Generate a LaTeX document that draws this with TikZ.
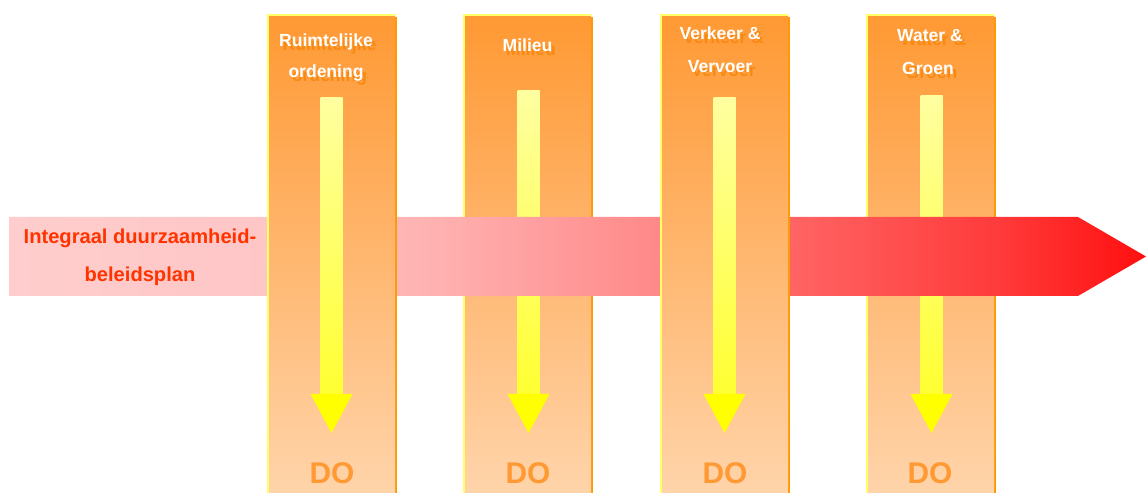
\documentclass[tikz,border=0pt]{standalone}
\usepackage{fontspec}
\setmainfont{Liberation Sans}
\usetikzlibrary{shadows}

\definecolor{colTop}{RGB}{255,153,51}
\definecolor{colBot}{RGB}{255,212,170}
\definecolor{colEdge}{RGB}{255,153,0}
\definecolor{colLight}{RGB}{255,255,102}
\definecolor{shaftTop}{RGB}{255,255,160}
\definecolor{shaftBot}{RGB}{255,255,50}
\definecolor{headYel}{RGB}{255,255,0}
\definecolor{titleShade}{RGB}{248,138,20}
\definecolor{doOrange}{RGB}{255,153,51}
\definecolor{barText}{RGB}{255,51,0}
\definecolor{barA}{RGB}{255,205,205}
\definecolor{barB}{RGB}{255,198,198}
\definecolor{barC}{RGB}{255,176,176}
\definecolor{barD}{RGB}{255,136,136}
\definecolor{barE}{RGB}{255,100,100}
\definecolor{barF}{RGB}{255,58,58}
\definecolor{barG}{RGB}{255,15,15}

\pgfdeclarehorizontalshading{barshade}{100bp}{color(0bp)=(barA); color(25bp)=(barA);
  color(36.4bp)=(barB); color(44bp)=(barC); color(53.7bp)=(barD); color(59.3bp)=(barE);
  color(68.6bp)=(barF); color(75bp)=(barG); color(100bp)=(barG)}

\tikzset{
  colbox/.style={rectangle, inner sep=0, minimum width=127bp, minimum height=478bp,
    top color=colTop, bottom color=colBot,
    drop shadow={shadow xshift=2bp, shadow yshift=-2bp, fill=colEdge, opacity=1}},
  coltitle/.style={anchor=base, inner sep=0, text=white, font=\bfseries\fontsize{17.6}{20}\selectfont},
  coltitleshade/.style={coltitle, text=titleShade},
  dolabel/.style={anchor=base, inner sep=0, text=doOrange, font=\bfseries\fontsize{30}{30}\selectfont},
  bartext/.style={anchor=base, inner sep=0, text=barText, font=\bfseries\fontsize{20.2}{22}\selectfont},
}

\begin{document}
\begin{tikzpicture}[x=1bp, y=-1bp]
  \useasboundingbox (0,0) rectangle (1146,493);

  % columns behind the bar
  \foreach \c/\cx/\top in {2/527.5/91, 4/930.5/96} {
    \node [colbox] (col\c) at (\cx,254) {};
    \draw [colLight, line width=1.5bp] (col\c.south west) -- (col\c.north west) -- (col\c.north east);
    \shade [top color=shaftTop, bottom color=shaftBot] (\cx-10,\top) rectangle (\cx+12,395);
    \fill [headYel] (\cx-20,394) -- (\cx+22,394) -- (\cx+1,433) -- cycle;
  }

  % the bar
  \shade [shading=barshade] (9,217) -- (1078,217) -- (1146,256.5) -- (1078,296) -- (9,296) -- cycle;
  \node [bartext] (bar1) at (140,244) {Integraal duurzaamheid-};
  \node [bartext] (bar2) at (140,282) {beleidsplan};

  % columns in front of the bar
  \foreach \c/\cx/\top in {1/331.5/98, 3/724.5/98} {
    \node [colbox] (col\c) at (\cx,254) {};
    \draw [colLight, line width=1.5bp] (col\c.south west) -- (col\c.north west) -- (col\c.north east);
    \shade [top color=shaftTop, bottom color=shaftBot] (\cx-11,\top) rectangle (\cx+11,395);
    \fill [headYel] (\cx-21,394) -- (\cx+21,394) -- (\cx,433) -- cycle;
  }

  % titles
  \foreach \x/\y/\t/\n in {326/47/Ruimtelijke/t1a, 326/78/ordening/t1b, 527.5/52/Milieu/t2a,
      720/40/Verkeer \&/t3a, 720/73/Vervoer/t3b, 930/42/Water \&/t4a, 928/75/Groen/t4b} {
    \node [coltitleshade] (\n s) at (\x+3.5,\y+4) {\t};
    \node [coltitle] (\n) at (\x,\y) {\t};
  }

  % DO
  \foreach \c/\cx in {1/332, 2/528, 3/725, 4/930} {
    \node [dolabel] (do\c) at (\cx,483) {DO};
  }
\end{tikzpicture}
\end{document}
